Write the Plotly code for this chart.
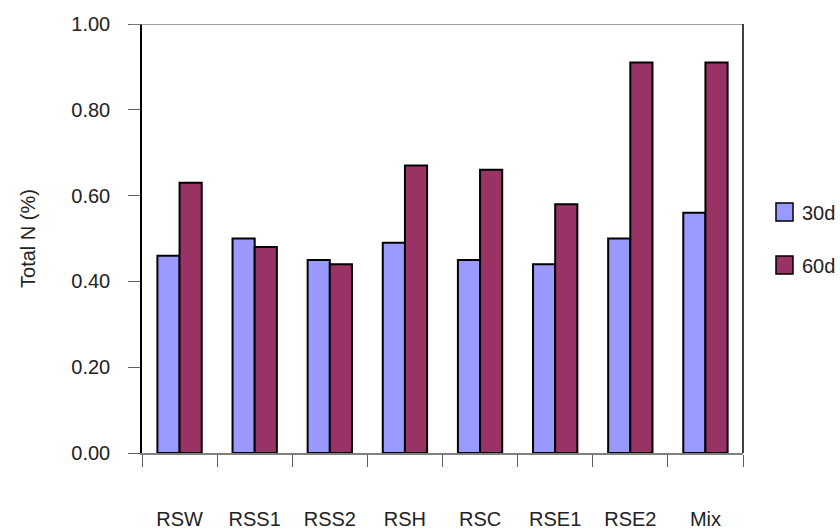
import plotly.graph_objects as go

# Total nitrogen content by treatment at two sampling times
categories = ["RSW", "RSS1", "RSS2", "RSH", "RSC", "RSE1", "RSE2", "Mix"]
n_30d = [0.46, 0.50, 0.45, 0.49, 0.45, 0.44, 0.50, 0.56]
n_60d = [0.63, 0.48, 0.44, 0.67, 0.66, 0.58, 0.91, 0.91]
y_ticks = [0.0, 0.2, 0.4, 0.6, 0.8, 1.0]
series_names = ["30d", "60d"]
series_colors = ["#9999FF", "#993366"]

FONT = "Liberation Sans, Arial, sans-serif"
W, H = 840, 529
L, R, T, B = 142, 97, 24, 76
PW, PH = W - L - R, H - T - B

fig = go.Figure()
for name, vals, col in zip(series_names, [n_30d, n_60d], series_colors):
    fig.add_trace(go.Bar(
        x=categories, y=vals, name=name,
        marker=dict(color=col, line=dict(color="#000000", width=2)),
    ))

fig.update_layout(
    width=W, height=H,
    margin=dict(l=L, r=R, t=T, b=B, autoexpand=False),
    paper_bgcolor="white", plot_bgcolor="white",
    font=dict(family=FONT, size=20, color="#222222"),
    barmode="group", bargap=0.41, bargroupgap=0,
    showlegend=False,
)

fig.update_xaxes(
    type="category", tickson="boundaries",
    showline=True, linecolor="#808080", linewidth=1.5,
    ticks="outside", ticklen=12, tickcolor="#606060", tickwidth=1,
    ticklabelstandoff=47, showgrid=False, zeroline=False,
)
fig.update_yaxes(
    range=[0, 1], tickvals=y_ticks, tickformat=".2f",
    showline=True, linecolor="#000000", linewidth=1.5,
    ticks="outside", ticklen=12, tickcolor="#606060", tickwidth=1,
    ticklabelstandoff=14, showgrid=False, zeroline=False,
    title=dict(text="Total N (%)", font=dict(size=20), standoff=30),
)

# Plot-area frame: grey top edge, black right edge
fig.add_shape(type="line", xref="paper", yref="y",
              x0=-12 / PW, x1=1, y0=1, y1=1,
              line=dict(color="#808080", width=1.5))
fig.add_shape(type="line", xref="paper", yref="y",
              x0=1, x1=1, y0=0, y1=1,
              line=dict(color="#000000", width=1.5))

# Legend: swatches with labels to the right of the plot area
def px_x(px):
    return (px - L) / PW

def px_y(py):
    return (H - B - py) / PH

for i, (name, col) in enumerate(zip(series_names, series_colors)):
    cy = 212 + i * 53
    fig.add_shape(type="rect", xref="paper", yref="paper",
                  x0=px_x(776), x1=px_x(793), y0=px_y(cy + 9), y1=px_y(cy - 9),
                  fillcolor=col, line=dict(color="#000000", width=1.5))
    fig.add_annotation(xref="paper", yref="paper", x=px_x(800), y=px_y(cy + 1),
                       text=name, showarrow=False, xanchor="left", yanchor="middle",
                       font=dict(size=20, color="#222222"))

fig.write_html("out.html")
